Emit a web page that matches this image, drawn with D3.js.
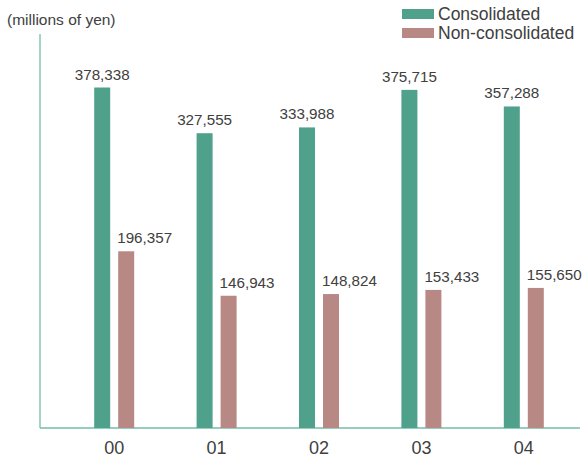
<!DOCTYPE html>
<html>
<head>
<meta charset="utf-8">
<script src="https://cdn.jsdelivr.net/npm/d3@7"></script>
<style>
  html, body { margin: 0; padding: 0; background: #fff; }
  svg { display: block; font-family: "Liberation Sans", Arial, sans-serif; }
</style>
</head>
<body>
<svg id="chart" width="583" height="457"></svg>
<script>
// Fiscal years and net sales (millions of yen)
const years = ["00", "01", "02", "03", "04"];
const consolidated = [378338, 327555, 333988, 375715, 357288];
const nonConsolidated = [196357, 146943, 148824, 153433, 155650];
const seriesNames = ["Consolidated", "Non-consolidated"];
const unitLabel = "(millions of yen)";

const colors = { consolidated: "#4fa18c", non: "#b88885", axis: "#72bda8", text: "#404040" };

const svg = d3.select("#chart");
const plotLeft = 40, plotRight = 580, plotTop = 34, plotBottom = 428;

const x = d3.scaleBand().domain(years).range([63, 575]).padding(0);
const y = d3.scaleLinear().domain([0, 437800]).range([plotBottom, plotTop]);

const barW = 16, gap = 4;
const fmt = d3.format(",");

// axis lines
svg.append("line").attr("x1", plotLeft).attr("x2", plotLeft).attr("y1", plotTop).attr("y2", plotBottom)
  .attr("stroke", colors.axis).attr("stroke-width", 1.3);
svg.append("line").attr("x1", plotLeft).attr("x2", plotRight).attr("y1", plotBottom).attr("y2", plotBottom)
  .attr("stroke", colors.axis).attr("stroke-width", 1.3);

// category labels
const xAxis = svg.append("g").attr("transform", `translate(0,${plotBottom})`)
  .call(d3.axisBottom(x).tickSize(0).tickPadding(13));
xAxis.select(".domain").remove();
xAxis.selectAll("text").attr("font-size", 18).attr("fill", colors.text)
  .attr("font-family", "'Liberation Sans', Arial, sans-serif");

const center = d => x(d) + x.bandwidth() / 2;

// consolidated bars
svg.append("g").selectAll("rect").data(years).join("rect")
  .attr("x", d => center(d) - gap - barW)
  .attr("width", barW)
  .attr("y", (d, i) => y(consolidated[i]))
  .attr("height", (d, i) => plotBottom - y(consolidated[i]))
  .attr("fill", colors.consolidated);

// non-consolidated bars
svg.append("g").selectAll("rect").data(years).join("rect")
  .attr("x", d => center(d) + gap)
  .attr("width", barW)
  .attr("y", (d, i) => y(nonConsolidated[i]))
  .attr("height", (d, i) => plotBottom - y(nonConsolidated[i]))
  .attr("fill", colors.non);

// value labels
svg.append("g").selectAll("text").data(years).join("text")
  .attr("x", d => center(d) - gap - barW / 2)
  .attr("y", (d, i) => y(consolidated[i]) - 8)
  .attr("text-anchor", "middle")
  .attr("font-size", 15.2).attr("fill", colors.text)
  .text((d, i) => fmt(consolidated[i]));

svg.append("g").selectAll("text").data(years).join("text")
  .attr("x", d => center(d) + gap - 1)
  .attr("y", (d, i) => y(nonConsolidated[i]) - 8)
  .attr("text-anchor", "start")
  .attr("font-size", 15.2).attr("fill", colors.text)
  .text((d, i) => fmt(nonConsolidated[i]));

// unit label
svg.append("text").attr("x", 7).attr("y", 25).attr("font-size", 15.5).attr("fill", colors.text)
  .text(unitLabel);

// legend
const legend = svg.append("g").attr("transform", "translate(402,9)");
[colors.consolidated, colors.non].forEach((c, i) => {
  legend.append("rect").attr("x", 0).attr("y", i * 19).attr("width", 32).attr("height", 10).attr("fill", c);
  legend.append("text").attr("x", 36).attr("y", i * 19 + 10.5).attr("font-size", 17.5)
    .attr("fill", colors.text).text(seriesNames[i]);
});
</script>
</body>
</html>
